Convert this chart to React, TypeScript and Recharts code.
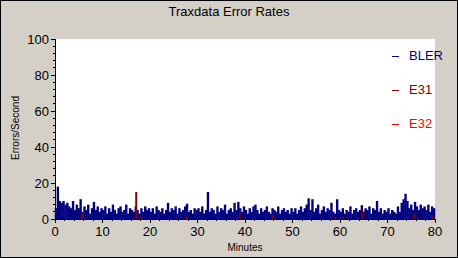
import { ComposedChart, Scatter, ErrorBar, XAxis, YAxis } from 'recharts';

// BLER samples, one every 0.4 minutes from 0 to 79.6
const blerStep = 0.4;
const blerValues = [
  6, 18, 10, 9, 10, 8, 9, 7, 6, 10, 5, 8, 6, 11, 4, 7, 5, 8, 3, 6, 9.5, 5, 7, 4, 6,
  5, 7, 3, 6, 4, 8, 5, 3, 6, 7, 4, 5, 8, 3, 6, 5, 4, 7, 5, 3, 6, 4, 7, 5, 6,
  4, 6, 3, 7, 5, 4, 6, 3, 5, 9, 4, 6, 5, 7, 3, 6, 4, 5, 7, 8.5, 4, 5, 3, 6, 5,
  6, 4, 7, 3, 5, 15, 4, 6, 5, 3, 7, 4, 6, 5, 8, 3, 5, 6, 4, 9, 5, 9.5, 6, 4, 7,
  5, 3, 6, 4, 7, 8, 5, 3, 6, 4, 5, 7, 4, 3, 6, 5, 4, 7, 3, 5, 6, 4, 5, 3, 6,
  4, 6, 3, 5, 7, 4, 6, 8, 11.5, 5, 11, 4, 6, 8, 3, 5, 7, 4, 6, 5, 9, 4, 3, 11, 5,
  4, 6, 3, 5, 4, 7, 3, 5, 6, 4, 5, 7.7, 4, 6, 5, 7, 3, 6, 5, 10, 4, 6, 3, 5, 4,
  6, 3, 5, 4, 3, 7, 4, 9, 11, 14, 10, 6, 8, 5, 9.5, 7, 5, 8, 6, 7, 5, 8, 4, 7, 6,
];

// E31 spikes (minute, errors/second)
const e31Minutes = [5.8, 17.1, 18.1, 27.7, 38.9, 45.8, 59.0, 60.7, 64.7, 75.6, 79.4];
const e31Values = [3, 15, 1.3, 2, 3.3, 2, 1.3, 1.5, 5, 3, 2];

const xTicks = Array.from({ length: 41 }, (_, i) => i * 2);
const yTicks = Array.from({ length: 26 }, (_, i) => i * 4);

const legendItems = [
  { name: 'BLER', color: '#000080', top: 56 },
  { name: 'E31', color: '#800000', top: 90 },
  { name: 'E32', color: '#FF0000', top: 124 },
];

// each sample is drawn as a spike from zero up to its value
const blerRows = blerValues.map((v, i) => ({ t: i * blerStep + blerStep / 2, v, err: [v, 0] }));
const e31Rows = e31Minutes.map((t, i) => ({ t, v: e31Values[i], err: [e31Values[i], 0] }));

const font = '"Liberation Sans", Arial, sans-serif';

const XTick = (props: any) => {
  const { x, y, payload } = props;
  const major = payload.value % 10 === 0;
  return (
    <g>
      <line x1={x} x2={x} y1={y} y2={y + (major ? 4 : 2)} stroke="#000" shapeRendering="crispEdges" />
      {major && (
        <text x={x} y={y + 17} textAnchor="middle" fontSize={13} fontFamily={font} fill="#000">
          {payload.value}
        </text>
      )}
    </g>
  );
};

const YTick = (props: any) => {
  const { x, y, payload } = props;
  const major = payload.value % 20 === 0;
  return (
    <g>
      <line x1={x - (major ? 4 : 2)} x2={x} y1={y} y2={y} stroke="#000" shapeRendering="crispEdges" />
      {major && (
        <text x={x - 6} y={y + 4.6} textAnchor="end" fontSize={13} fontFamily={font} fill="#000">
          {payload.value}
        </text>
      )}
    </g>
  );
};

const noDot = () => <g />;

export default function App() {
  return (
    <div
      style={{
        position: 'fixed', left: 0, top: 0, width: 458, height: 258, boxSizing: 'border-box',
        border: '1px solid #000', background: '#D4D0C8', fontFamily: font,
      }}
    >
      <ComposedChart width={456} height={256} margin={{ top: 38, right: 22, left: 0, bottom: 8 }}>
        <rect x={54} y={38} width={380} height={180} fill="#fff" />
        <XAxis
          type="number" dataKey="t" domain={[0, 80]} ticks={xTicks} interval={0} height={30}
          tickSize={0} tickMargin={0} tick={<XTick />} allowDataOverflow
          axisLine={{ stroke: '#000', shapeRendering: 'crispEdges' }} tickLine={false}
        />
        <YAxis
          type="number" dataKey="v" domain={[0, 100]} ticks={yTicks} interval={0} width={54}
          tickSize={0} tickMargin={0} tick={<YTick />}
          axisLine={{ stroke: '#000', shapeRendering: 'crispEdges' }} tickLine={false}
        />
        <Scatter data={blerRows} dataKey="v" shape={noDot} isAnimationActive={false}>
          <ErrorBar dataKey="err" direction="y" width={0} stroke="#000080" strokeWidth={2.4} isAnimationActive={false} />
        </Scatter>
        <Scatter data={e31Rows} dataKey="v" shape={noDot} isAnimationActive={false}>
          <ErrorBar dataKey="err" direction="y" width={0} stroke="#800000" strokeWidth={2} isAnimationActive={false} />
        </Scatter>
      </ComposedChart>

      <div style={{ position: 'absolute', left: 0, width: 456, top: 3, textAlign: 'center', fontSize: 13, lineHeight: '16px' }}>
        Traxdata Error Rates
      </div>
      <div
        style={{
          position: 'absolute', left: 15 - 50, top: 127 - 6, width: 100, textAlign: 'center',
          fontSize: 10, lineHeight: '12px', transform: 'rotate(-90deg)',
        }}
      >
        Errors/Second
      </div>
      <div style={{ position: 'absolute', left: 194, width: 100, top: 241, textAlign: 'center', fontSize: 10, lineHeight: '12px' }}>
        Minutes
      </div>
      {legendItems.map((it) => (
        <div key={it.name} style={{ position: 'absolute', left: 391, top: it.top - 9, color: it.color, fontSize: 13, lineHeight: '16px', whiteSpace: 'nowrap' }}>
          <span style={{ display: 'inline-block', width: 7, height: 1, background: it.color, verticalAlign: 'middle', marginRight: 10 }} />
          {it.name}
        </div>
      ))}
    </div>
  );
}
